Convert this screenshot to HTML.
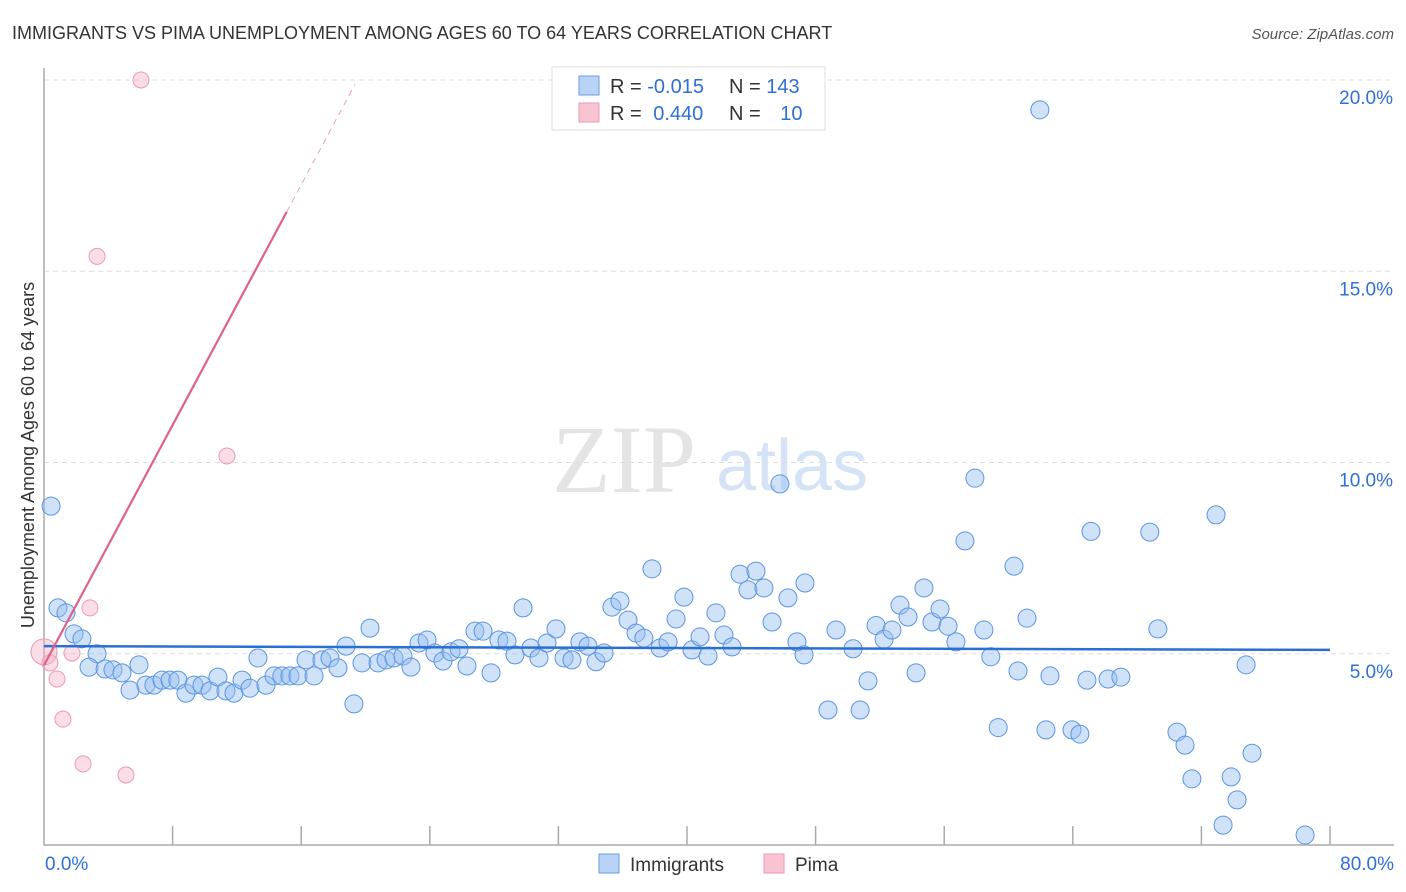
<!DOCTYPE html>
<html><head><meta charset="utf-8"><style>
body{margin:0;background:#fff;font-family:"Liberation Sans",sans-serif}
svg{display:block}
</style></head><body>
<svg id="chart" width="1406" height="892" xmlns="http://www.w3.org/2000/svg">
<text x="12" y="39" font-size="18" fill="#333">IMMIGRANTS VS PIMA UNEMPLOYMENT AMONG AGES 60 TO 64 YEARS CORRELATION CHART</text>
<text x="1394" y="39" font-size="15" fill="#555" font-style="italic" text-anchor="end">Source: ZipAtlas.com</text>
<g>
<text x="552" y="492" font-size="96" font-family="Liberation Serif,serif" fill="#e4e4e4">ZIP</text>
<text x="716" y="490" font-size="72" fill="#d4e3f6">atlas</text>
</g>
<g id="grid"></g>
<g id="axes"></g>
<g id="marks"></g>
<text transform="translate(34,455) rotate(-90)" font-size="18" fill="#333" text-anchor="middle">Unemployment Among Ages 60 to 64 years</text>
<g>
<rect x="552" y="67" width="273" height="63" fill="#fff" stroke="#ddd"/>
<rect x="579" y="76" width="20" height="19" fill="#b8d3f5" stroke="#6a9ee2"/>
<rect x="579" y="103" width="20" height="19" fill="#f8c4d2" stroke="#ec9ab2"/>
<text x="610" y="93" font-size="20" fill="#333">R = <tspan fill="#2f6fd6">-0.015</tspan></text>
<text x="729" y="93" font-size="20" fill="#333">N = <tspan fill="#2f6fd6">143</tspan></text>
<text x="610" y="120" font-size="20" fill="#333">R = <tspan fill="#2f6fd6" dx="6">0.440</tspan></text>
<text x="729" y="120" font-size="20" fill="#333">N = <tspan fill="#2f6fd6" dx="14">10</tspan></text>
</g>
<g>
<rect x="599" y="854" width="20" height="19" fill="#b8d3f5" stroke="#6a9ee2"/>
<text x="630" y="871" font-size="19" fill="#333">Immigrants</text>
<rect x="764" y="854" width="20" height="19" fill="#f8c4d2" stroke="#ec9ab2"/>
<text x="795" y="871" font-size="19" fill="#333">Pima</text>
</g>
</svg>
<script>
const yTicks=[5,10,15,20];
const yTickLabels=["5.0%","10.0%","15.0%","20.0%"];
const xTickLabels=["0.0%","80.0%"];
const blueX=[0.44,0.87,1.37,1.87,2.36,3.3,2.8,3.8,4.29,4.85,5.91,5.35,6.34,6.84,7.34,7.84,8.33,8.83,9.33,9.83,10.33,10.82,11.32,11.82,12.32,12.81,13.31,13.81,14.31,14.8,15.3,15.8,16.3,16.8,17.29,17.79,18.29,18.79,19.28,19.78,20.28,20.78,21.28,21.77,22.33,22.83,23.33,23.83,24.32,24.82,25.32,25.82,26.31,26.81,27.31,27.81,28.3,28.8,29.3,29.8,30.29,30.79,31.29,31.85,32.35,32.84,33.34,33.84,34.34,34.84,35.33,35.83,36.33,36.83,37.32,37.82,38.32,38.82,39.32,39.81,40.31,40.81,41.31,41.8,42.3,42.8,43.3,43.79,44.29,44.79,45.29,45.78,46.28,46.84,47.34,47.28,48.77,49.27,50.33,50.77,51.26,51.76,52.26,52.75,53.25,53.75,54.25,54.74,55.24,55.74,56.24,56.73,57.29,57.91,58.47,58.9,59.36,60.34,60.59,61.15,61.95,62.33,62.58,63.95,64.44,64.88,65.13,66.19,66.99,68.79,69.29,70.48,70.98,71.41,72.91,73.35,73.85,74.22,74.78,75.15,78.45];
const blueY=[8.86,6.2,6.07,5.52,5.39,5.0,4.65,4.6,4.58,4.5,4.71,4.05,4.18,4.18,4.31,4.31,4.31,3.97,4.18,4.18,4.03,4.39,4.03,3.97,4.31,4.1,4.89,4.18,4.42,4.42,4.42,4.42,4.84,4.42,4.84,4.89,4.63,5.2,3.69,4.76,5.67,4.76,4.84,4.89,4.94,4.65,5.28,5.36,5.02,4.81,5.05,5.13,4.68,5.59,5.59,4.5,5.36,5.33,4.97,6.2,5.15,4.89,5.28,5.65,4.89,4.84,5.31,5.2,4.79,5.02,6.22,6.38,5.88,5.54,5.41,7.22,5.15,5.31,5.91,6.48,5.1,5.44,4.94,6.07,5.49,5.18,7.08,6.67,7.16,6.72,5.83,9.44,6.46,5.31,6.85,4.97,3.53,5.62,5.13,3.53,4.29,5.74,5.38,5.62,6.27,5.96,4.5,6.72,5.83,6.17,5.72,5.31,7.95,9.59,5.62,4.92,3.07,7.29,4.55,5.93,19.22,3.01,4.42,3.01,2.9,4.31,8.2,4.34,4.39,8.18,5.65,2.95,2.61,1.73,8.63,0.52,1.78,1.18,4.71,2.4,0.26,1.15,2.4];
const pinkX=[0.0,0.37,0.81,1.18,1.74,2.43,2.86,3.3,5.1,6.03,11.38];
const pinkY=[5.05,4.76,4.34,3.29,5.02,2.12,6.2,15.39,1.83,20.0,10.17];
const blueTrend=[5.2,5.1];
const pinkTrend=[4.7,0.785];
const X0=44,X1=1330,Y0=845,PXY=38.25;
const sx=v=>X0+(v/80)*(X1-X0);
const sy=v=>Y0-v*PXY;
const NS="http://www.w3.org/2000/svg";
function mk(tag,attrs,parent){const e=document.createElementNS(NS,tag);for(const k in attrs)e.setAttribute(k,attrs[k]);parent.appendChild(e);return e;}
const grid=document.getElementById('grid'),axes=document.getElementById('axes'),marks=document.getElementById('marks');
yTicks.forEach((t,i)=>{
 const l=mk('line',{x1:X0,x2:1394,y1:sy(t),y2:sy(t),stroke:'#ddd','stroke-dasharray':'5,4'},grid);
 
 
 const tx=mk('text',{x:1393,y:sy(t)+24,'font-size':19,fill:'#2f6fd6','text-anchor':'end'},axes);
 tx.textContent=yTickLabels[i];
 
 
});
const ax=mk('path',{d:`M${X0} 68V${Y0}H1394`,stroke:'#aaa','stroke-width':1.5,fill:'none'},axes);


for(let i=1;i<=10;i++){
 const t=mk('line',{x1:sx(i*8),x2:sx(i*8),y1:Y0-19,y2:Y0,stroke:'#aaa','stroke-width':1.5},axes);
 
 
}
[[0,'start',45],[80,'end',1394]].forEach((d,i)=>{
 const t=mk('text',{x:d[2],y:870,'font-size':19,fill:'#2f6fd6','text-anchor':d[1]},axes);
 t.textContent=xTickLabels[i];
 
 
});
blueX.forEach((x,i)=>{
 const c=mk('circle',{cx:sx(x),cy:sy(blueY[i]),r:9,fill:'rgba(150,190,240,0.45)',stroke:'#5b95e0','stroke-width':1},marks);
 
 
});
pinkX.forEach((x,i)=>{
 const c=mk('circle',{cx:sx(x),cy:sy(pinkY[i]),r:i==0?13:8,fill:'rgba(245,180,200,0.45)',stroke:'#ec9ab2','stroke-width':1},marks);
 
 
});
const bt=mk('line',{x1:sx(0),y1:sy(blueTrend[0]),x2:sx(80),y2:sy(blueTrend[1]),stroke:'#2a6fd6','stroke-width':2.5},marks);


const pf=x=>pinkTrend[0]+pinkTrend[1]*x;
const pt=mk('line',{x1:sx(0),y1:sy(pf(0)),x2:sx(15.1),y2:sy(pf(15.1)),stroke:'#e0608a','stroke-width':2.2},marks);


const pd=mk('line',{x1:sx(15.1),y1:sy(pf(15.1)),x2:sx(19.35),y2:sy(pf(19.35)),stroke:'#eaa0b8','stroke-width':1,'stroke-dasharray':'6,5'},marks);


</script>
</body></html>
